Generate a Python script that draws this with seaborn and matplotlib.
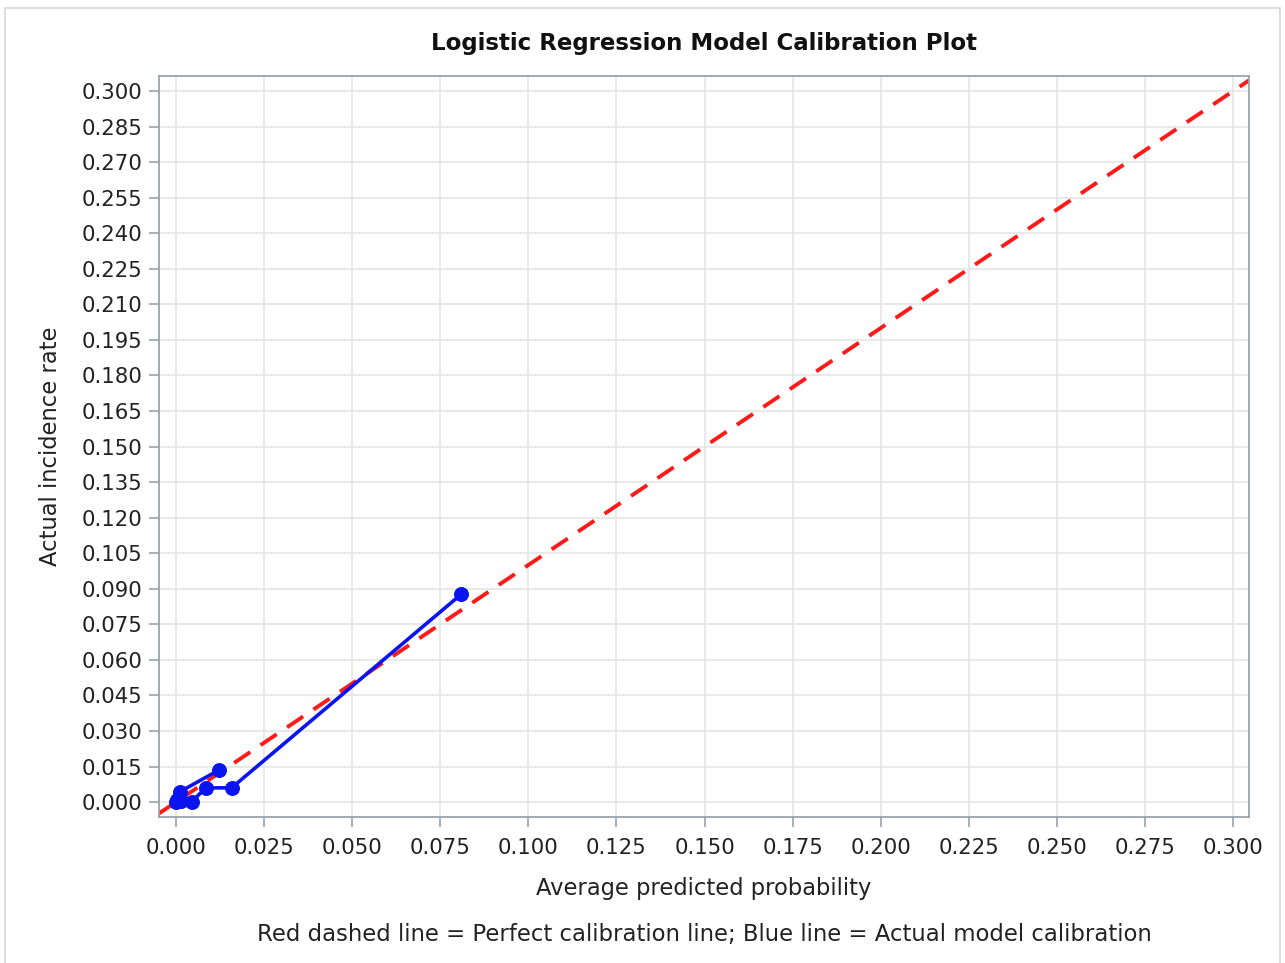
import matplotlib
matplotlib.use("Agg")
import matplotlib.pyplot as plt
import seaborn as sns
import numpy as np
from matplotlib.patches import Rectangle

# Calibration points (average predicted probability vs actual incidence)
pred_prob = [0.0122, 0.0012, 0.0002, 0.0000, 0.0015, 0.0045, 0.0085, 0.0158, 0.0809]
actual_rate = [0.0135, 0.0044, 0.0010, 0.0000, 0.0005, 0.0002, 0.0060, 0.0060, 0.0876]

# Perfect calibration reference line
diag = [-0.006, 0.306]

x_ticks = np.arange(0, 0.3001, 0.025)
y_ticks = np.arange(0, 0.3001, 0.015)

sns.set_style("whitegrid", {"grid.color": "#e3e3e3", "axes.edgecolor": "#9aa3ab"})
plt.rcParams['font.family'] = ['DejaVu Sans']

fig = plt.figure(figsize=(12.85, 9.63), dpi=100)
ax = fig.add_axes([0.1237, 0.1516, 0.972 - 0.1237, 0.921 - 0.1516])

sns.lineplot(x=diag, y=diag, ax=ax, color="#ff1a1a", linewidth=2.8,
             linestyle=(0, (5, 3.2)), sort=False)
sns.lineplot(x=pred_prob, y=actual_rate, ax=ax, color="#0a14f0", linewidth=2.6,
             marker="o", markersize=10, markeredgecolor="#0a14f0", sort=False)

ax.set_xlim(-0.0048, 0.3045)
ax.set_ylim(-0.0063, 0.3063)
ax.set_xticks(x_ticks)
ax.set_yticks(y_ticks)
ax.set_xticklabels([f"{v:.3f}" for v in x_ticks])
ax.set_yticklabels([f"{v:.3f}" for v in y_ticks])
ax.tick_params(axis="both", labelsize=15.3, colors="#9aa3ab", labelcolor="#222222",
               length=7, width=1.2, direction="out", bottom=True, left=True)
ax.tick_params(axis="x", pad=8)
ax.tick_params(axis="y", pad=5)
for s in ax.spines.values():
    s.set_linewidth(1.3)
ax.grid(True, linewidth=1.1)

ax.set_xlabel("Average predicted probability", fontsize=16.3, color="#222222", labelpad=14)
ax.set_ylabel("Actual incidence rate", fontsize=16.3, color="#222222", labelpad=14)
ax.set_title("Logistic Regression Model Calibration Plot", fontsize=16.5,
             fontweight="semibold", color="#111111", pad=19)

fig.text(0.548, 0.030, "Red dashed line = Perfect calibration line; Blue line = Actual model calibration",
         ha="center", va="center", fontsize=16.4, color="#222222")

fig.patches.append(Rectangle((5 / 1285, -0.01), 1275 / 1285, 1 - 8 / 963 + 0.01,
                             transform=fig.transFigure, fill=False,
                             edgecolor="#d5d5d5", linewidth=1.2))

fig.savefig("out.png", dpi=100)
